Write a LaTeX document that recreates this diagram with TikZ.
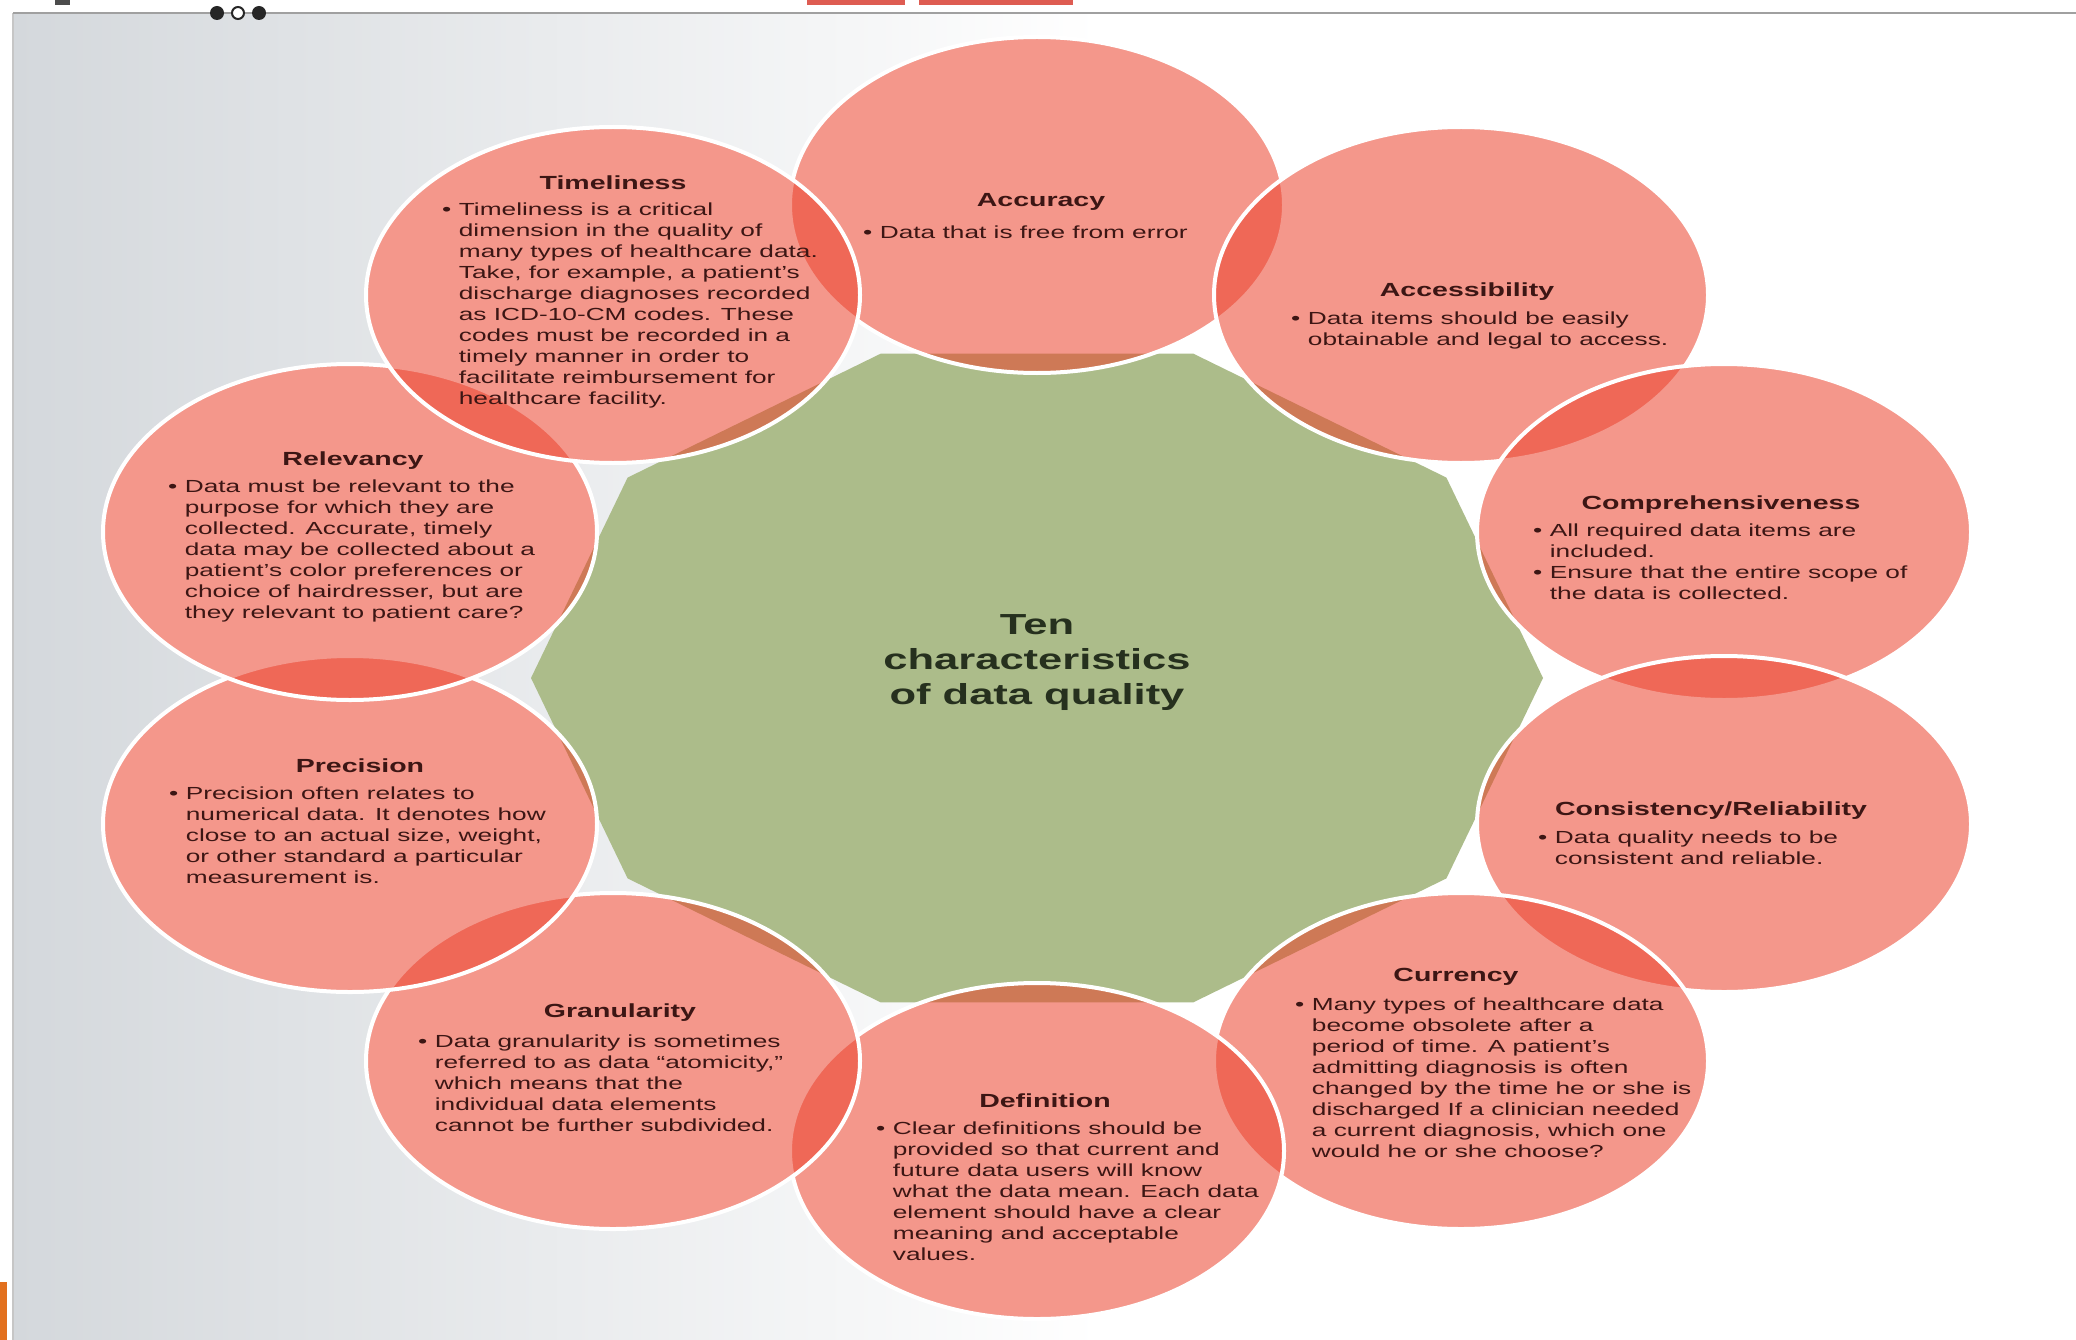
\documentclass[tikz,border=0pt]{standalone}
\usepackage{fontspec}
\setmainfont{Liberation Sans}
\usepackage{graphicx}
\usetikzlibrary{shapes.geometric}
\definecolor{salmonC}{RGB}{235,66,45}
\definecolor{sage}{RGB}{172,188,138}
\definecolor{maroonT}{RGB}{60,22,20}
\definecolor{centerTxt}{RGB}{38,48,30}
\definecolor{bgL}{RGB}{212,216,220}
\definecolor{frameC}{RGB}{160,160,160}
\definecolor{topRed}{RGB}{222,92,82}
\definecolor{orangeC}{RGB}{226,112,30}
\newcommand{\btitle}[1]{\scalebox{1.5}[1]{\fontsize{19}{23}\selectfont\bfseries #1}}
\newcommand{\bbody}[1]{\scalebox{1.5}[1]{\fontsize{17.5}{21}\selectfont\begin{tabular}[t]{@{}l@{\hspace{5pt}}l@{}}#1\end{tabular}}}
\tikzset{
  bubblebase/.style={ellipse, minimum width=494pt, minimum height=336pt, inner sep=0pt,
    fill=white, draw=none},
  bubble/.style={ellipse, minimum width=494pt, minimum height=336pt, inner sep=0pt,
    fill=salmonC, fill opacity=0.55, draw=white, draw opacity=1, line width=4pt},
  htext/.style={text=maroonT, inner sep=0pt, anchor=base},
  btext/.style={text=maroonT, inner sep=0pt, anchor=base west},
}
\begin{document}
\begin{tikzpicture}[x=1pt,y=-1pt]
\useasboundingbox (0,0) rectangle (2076,1340);
\fill[white] (0,0) rectangle (2076,1340);
\shade[left color=bgL, right color=white] (13,13) rectangle (1100,1340);
\draw[gray!45, line width=2pt] (13,13) -- (13,1340);
\draw[frameC, line width=2.5pt] (13,13) -- (2076,13);
\fill[black!85] (217,13) circle[radius=7];
\filldraw[fill=white, draw=black!85, line width=2pt] (238,13) circle[radius=6];
\fill[black!85] (259,13) circle[radius=7];
\fill[topRed] (807,0) rectangle (905,5);
\fill[topRed] (919,0) rectangle (1073,5);
\fill[black!70] (55,0) rectangle (70,5);
\fill[orangeC] (0,1282) rectangle (7,1340);
% opaque white underlay of the bubbles
\node[bubblebase] (b1) at (1037,205) {};
\node[bubblebase] (b2) at (1461,295) {};
\node[bubblebase] (b3) at (1724,532) {};
\node[bubblebase] (b4) at (1724,824) {};
\node[bubblebase] (b5) at (1461,1061) {};
\node[bubblebase] (b6) at (1037,1151) {};
\node[bubblebase] (b7) at (613,1061) {};
\node[bubblebase] (b8) at (350,824) {};
\node[bubblebase] (b9) at (350,532) {};
\node[bubblebase] (b10) at (613,295) {};
% central decagon
\fill[sage] plot[samples at={0,36,...,324}] ({1037+506*cos(\x)},{678+341*sin(\x)}) -- cycle;
% bubbles, clockwise from top
\node[bubble] (c1) at (1037,205) {};
\node[bubble] (c2) at (1461,295) {};
\node[bubble] (c3) at (1724,532) {};
\node[bubble] (c4) at (1724,824) {};
\node[bubble] (c5) at (1461,1061) {};
\node[bubble] (c6) at (1037,1151) {};
\node[bubble] (c7) at (613,1061) {};
\node[bubble] (c8) at (350,824) {};
\node[bubble] (c9) at (350,532) {};
\node[bubble] (c10) at (613,295) {};
% titles
\node[htext] (h1) at (1041,207) {\btitle{Accuracy}};
\node[htext] (h2) at (1467,296) {\btitle{Accessibility}};
\node[htext] (h3) at (1721,509) {\btitle{Comprehensiveness}};
\node[htext] (h4) at (1711,815) {\btitle{Consistency/Reliability}};
\node[htext] (h5) at (1456,981) {\btitle{Currency}};
\node[htext] (h6) at (1045,1107) {\btitle{Definition}};
\node[htext] (h7) at (620,1017) {\btitle{Granularity}};
\node[htext] (h8) at (360,772) {\btitle{Precision}};
\node[htext] (h9) at (353,465) {\btitle{Relevancy}};
\node[htext] (h10) at (613,190) {\btitle{Timeliness}};
% bodies
\node[btext] (t1) at (863,239) {\bbody{\textbullet & Data that is free from error}};
\node[btext] (t2) at (1291,324) {\bbody{\textbullet & Data items should be easily\\ & obtainable and legal to access.}};
\node[btext] (t3) at (1533,536) {\bbody{\textbullet & All required data items are\\ & included.\\ \textbullet & Ensure that the entire scope of\\ & the data is collected.}};
\node[btext] (t4) at (1538,843) {\bbody{\textbullet & Data quality needs to be\\ & consistent and reliable.}};
\node[btext] (t5) at (1295,1010) {\bbody{\textbullet & Many types of healthcare data\\ & become obsolete after a\\ & period of time. A patient's\\ & admitting diagnosis is often\\ & changed by the time he or she is\\ & discharged If a clinician needed\\ & a current diagnosis, which one\\ & would he or she choose?}};
\node[btext] (t6) at (876,1134) {\bbody{\textbullet & Clear definitions should be\\ & provided so that current and\\ & future data users will know\\ & what the data mean. Each data\\ & element should have a clear\\ & meaning and acceptable\\ & values.}};
\node[btext] (t7) at (418,1047) {\bbody{\textbullet & Data granularity is sometimes\\ & referred to as data “atomicity,”\\ & which means that the\\ & individual data elements\\ & cannot be further subdivided.}};
\node[btext] (t8) at (169,799) {\bbody{\textbullet & Precision often relates to\\ & numerical data. It denotes how\\ & close to an actual size, weight,\\ & or other standard a particular\\ & measurement is.}};
\node[btext] (t9) at (168,492) {\bbody{\textbullet & Data must be relevant to the\\ & purpose for which they are\\ & collected. Accurate, timely\\ & data may be collected about a\\ & patient's color preferences or\\ & choice of hairdresser, but are\\ & they relevant to patient care?}};
\node[btext] (t10) at (442,216) {\bbody{\textbullet & Timeliness is a critical\\ & dimension in the quality of\\ & many types of healthcare data.\\ & Take, for example, a patient's\\ & discharge diagnoses recorded\\ & as ICD-10-CM codes. These\\ & codes must be recorded in a\\ & timely manner in order to\\ & facilitate reimbursement for\\ & healthcare facility.}};
\node[text=centerTxt, inner sep=0pt, font={\fontsize{29}{35}\selectfont\bfseries}] (ctr) at (1037,662)
  {\scalebox{1.5}[1]{\begin{tabular}{@{}c@{}}Ten\\characteristics\\of data quality\end{tabular}}};
\end{tikzpicture}
\end{document}
